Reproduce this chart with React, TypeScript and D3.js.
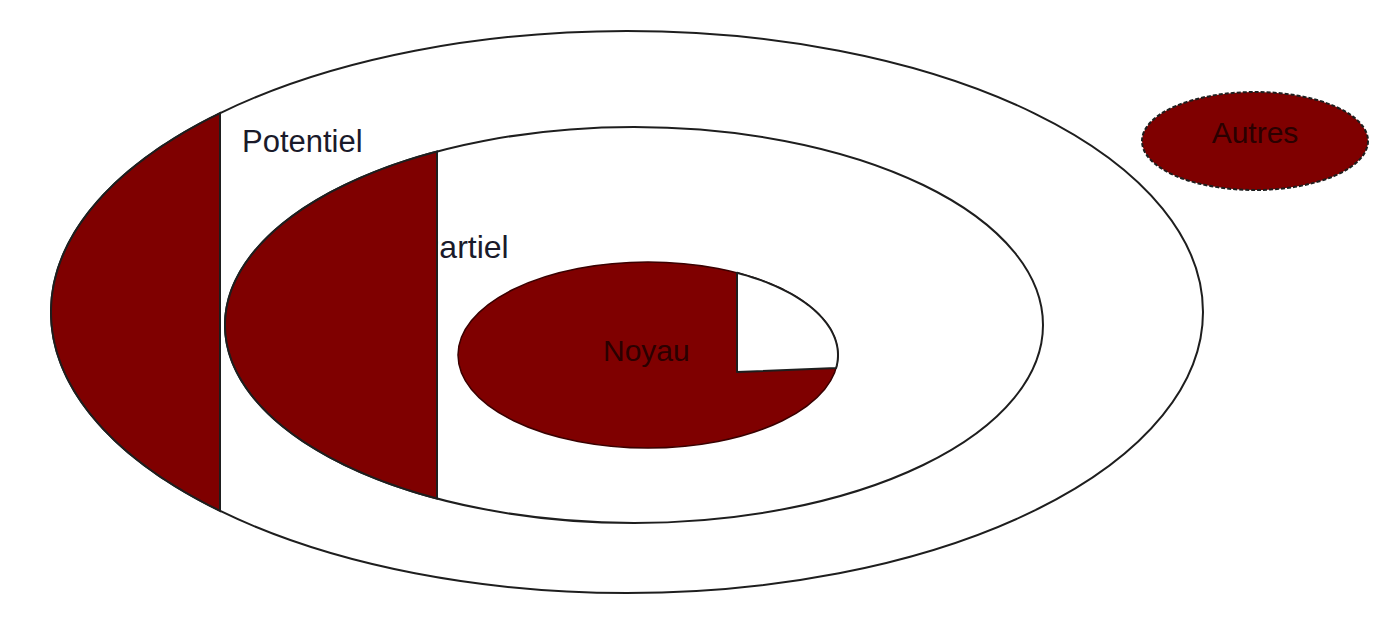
import React from "react";
import * as d3 from "d3";

const WIDTH = 1375;
const HEIGHT = 619;
const DARK = "#7f0000";
const LINE = "#1e1e1e";
const FONT = "'Liberation Sans', Arial, sans-serif";

// rings, outermost first
const ringNames = ["Potentiel", "Partiel", "Noyau"];
const ringCx = [627, 634, 648];
const ringCy = [312, 325, 355];
const ringRx = [576, 409, 190];
const ringRy = [281, 198, 93];
// x where the dark part of each outer ring stops
const ringCut = [220, 437];
const labelX = [242, 418, 603];
const labelY = [152, 258, 361];
const labelSize = [31, 32, 30];

const otherName = "Autres";

type Pt = [number, number];

const ellipsePts = (cx: number, cy: number, rx: number, ry: number, a0: number, a1: number, n = 120): Pt[] =>
  d3.range(n + 1).map((i) => {
    const a = a0 + ((a1 - a0) * i) / n;
    return [cx + rx * Math.cos(a), cy + ry * Math.sin(a)] as Pt;
  });

const line = d3.line<Pt>().curve(d3.curveLinear);

const leftPart = (i: number) => {
  const c = (ringCut[i] - ringCx[i]) / ringRx[i];
  const a = Math.acos(c);
  return line(ellipsePts(ringCx[i], ringCy[i], ringRx[i], ringRy[i], a, 2 * Math.PI - a)) + "Z";
};

const corePath = () => {
  const cx = ringCx[2], cy = ringCy[2], rx = ringRx[2], ry = ringRy[2];
  const cutX = 737, cutY = 368;
  const a0 = -Math.acos((cutX - cx) / rx);
  const a1 = Math.asin((cutY - cy) / ry);
  const pts = ellipsePts(cx, cy, rx, ry, a0, a1, 40);
  pts.push([cutX, cutY + 4]);
  return line(pts) + "Z";
};

export default function App() {
  return (
    <svg width={WIDTH} height={HEIGHT} style={{ position: "absolute", left: 0, top: 0, background: "#fff" }}>
      {/* outer ring */}
      <ellipse cx={ringCx[0]} cy={ringCy[0]} rx={ringRx[0]} ry={ringRy[0]} fill="#fff" stroke={LINE} strokeWidth={2} />
      <text x={labelX[0]} y={labelY[0]} fontFamily={FONT} fontSize={labelSize[0]} fill="#1a1a2a">{ringNames[0]}</text>
      <path d={leftPart(0)} fill={DARK} stroke={LINE} strokeWidth={2} />

      {/* middle ring */}
      <ellipse cx={ringCx[1]} cy={ringCy[1]} rx={ringRx[1]} ry={ringRy[1]} fill="#fff" stroke={LINE} strokeWidth={2} />
      <text x={labelX[1]} y={labelY[1]} fontFamily={FONT} fontSize={labelSize[1]} fill="#1a1a2a">{ringNames[1]}</text>
      <path d={leftPart(1)} fill={DARK} stroke={LINE} strokeWidth={2} />

      {/* core */}
      <ellipse cx={ringCx[2]} cy={ringCy[2]} rx={ringRx[2]} ry={ringRy[2]} fill={DARK} stroke="#3a0000" strokeWidth={1.5} />
      <path d={corePath()} fill="#fff" stroke={LINE} strokeWidth={2} strokeLinejoin="round" />
      <text x={labelX[2]} y={labelY[2]} fontFamily={FONT} fontSize={labelSize[2]} fill="#2a0000">{ringNames[2]}</text>

      {/* others */}
      <ellipse cx={1255} cy={141} rx={113} ry={49} fill={DARK} stroke={LINE} strokeWidth={2} strokeDasharray="4 2" />
      <text x={1255} y={143} textAnchor="middle" fontFamily={FONT} fontSize={30} fill="#2a0000">{otherName}</text>
    </svg>
  );
}
